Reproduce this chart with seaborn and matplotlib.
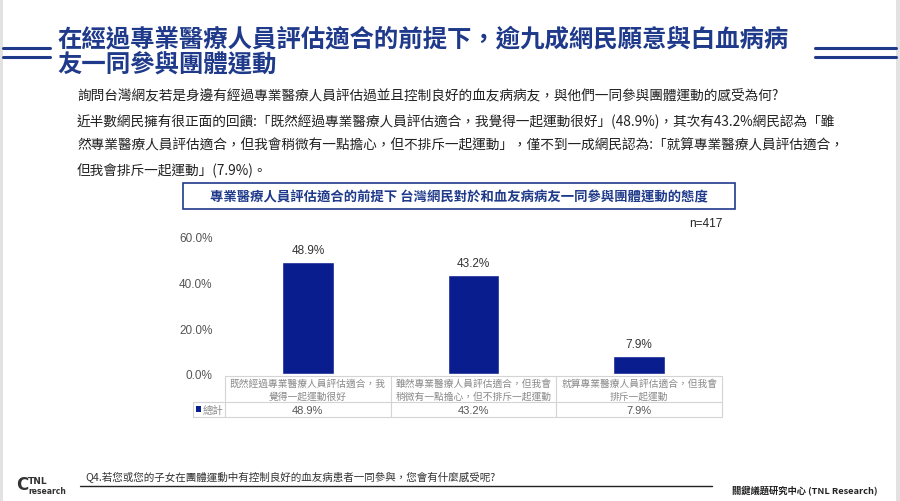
import matplotlib
matplotlib.use("Agg")
import matplotlib.pyplot as plt
import matplotlib.transforms as mtransforms
from matplotlib.patches import Rectangle
import pandas as pd
import seaborn as sns

# data
categories = ["既然經過專業醫療人員評估適合，我\n覺得一起運動很好",
              "雖然專業醫療人員評估適合，但我會\n稍微有一點擔心，但不排斥一起運動",
              "就算專業醫療人員評估適合，但我會\n排斥一起運動"]
values = [48.9, 43.2, 7.9]
yticks = [0, 20, 40, 60]
series_name = "總計"

title_lines = ["在經過專業醫療人員評估適合的前提下，逾九成網民願意與白血病病",
               "友一同參與團體運動"]
para_lines = ["詢問台灣網友若是身邊有經過專業醫療人員評估過並且控制良好的血友病病友，與他們一同參與團體運動的感受為何?",
              "近半數網民擁有很正面的回饋:「既然經過專業醫療人員評估適合，我覺得一起運動很好」(48.9%)，其次有43.2%網民認為「雖",
              "然專業醫療人員評估適合，但我會稍微有一點擔心，但不排斥一起運動」，僅不到一成網民認為:「就算專業醫療人員評估適合，",
              "但我會排斥一起運動」(7.9%)。"]
chart_title = "專業醫療人員評估適合的前提下 台灣網民對於和血友病病友一同參與團體運動的態度"
sample = "n=417"
question = "Q4.若您或您的子女在團體運動中有控制良好的血友病患者一同參與，您會有什麼感受呢?"
source = "關鍵議題研究中心 (TNL Research)"

sns.set_theme(style="white")
plt.rcParams['font.family'] = ['Noto Sans CJK TC', 'DejaVu Sans']

W, H = 900, 502
navy = "#1f3a8a"
bar_blue = "#0a1d8f"
grid_gray = "#d4d4d4"
num_font = ["Liberation Sans", "DejaVu Sans"]


def fx(px):
    return px / W


def fy(py):
    return 1 - py / H


fig = plt.figure(figsize=(9, 5.02), dpi=100)
fig.patch.set_facecolor("white")

# slide side borders
fig.add_artist(Rectangle((0, 0), fx(3), 1, transform=fig.transFigure, color="#e2e2e2", lw=0))
fig.add_artist(Rectangle((fx(896), 0), fx(4), 1, transform=fig.transFigure, color="#e2e2e2", lw=0))

# title and decorative lines
for i, t in enumerate(title_lines):
    fig.text(fx(57), fy(39 + 25 * i), t, fontsize=17.6, fontweight="bold", color=navy,
             va="center", ha="left")
for yy in (49, 58):
    fig.add_artist(plt.Line2D([fx(3), fx(50)], [fy(yy), fy(yy)], color=navy, lw=2.2,
                              transform=fig.transFigure))
    fig.add_artist(plt.Line2D([fx(815), fx(896)], [fy(yy), fy(yy)], color=navy, lw=2.2,
                              transform=fig.transFigure))

# paragraph
for i, t in enumerate(para_lines):
    fig.text(fx(77), fy(97 + 24.5 * i), t, fontsize=9.85, color="#222222", va="center", ha="left")

# chart title box
fig.add_artist(Rectangle((fx(183), fy(210)), fx(735) - fx(183), fy(184) - fy(210),
                         transform=fig.transFigure, fill=False, edgecolor=navy, lw=1.2))
fig.text(fx(459), fy(197), chart_title, fontsize=9.6, fontweight="bold", color=navy,
         ha="center", va="center")

# bar chart
ax = fig.add_axes([fx(225), fy(375), fx(722) - fx(225), (375 - 237) / H])
df = pd.DataFrame({"cat": [str(i) for i in range(len(values))], "val": values})
sns.barplot(data=df, x="cat", y="val", color=bar_blue, width=0.31, saturation=1, ax=ax)
ax.set_ylim(0, 60)
ax.set_xlim(-0.5, len(values) - 0.5)
ax.set_yticks(yticks)
ax.set_yticklabels([f"{v:.1f}%" for v in yticks], color="#555555", fontsize=8.5, family=num_font)
ax.tick_params(axis="y", length=0, pad=9)
ax.set_xticks([])
ax.set_xlabel("")
ax.set_ylabel("")
for s in ax.spines.values():
    s.set_visible(False)
ax.bar_label(ax.containers[0], labels=[f"{v:.1f}%" for v in values], padding=4,
             fontsize=8.5, color="#333333", family=num_font)
ax.set_facecolor("none")

fig.text(fx(723), fy(224), sample, fontsize=8.5, color="#222222", ha="right", va="center",
         family=num_font)

# data table under the chart
trans = mtransforms.blended_transform_factory(ax.transData, fig.transFigure)
x0 = -0.5
fig.add_artist(plt.Line2D([fx(225), fx(722)], [fy(377), fy(377)], color=grid_gray, lw=0.8,
                          transform=fig.transFigure))
for yy in (403, 418):
    fig.add_artist(plt.Line2D([fx(193), fx(722)], [fy(yy), fy(yy)], color=grid_gray, lw=0.8,
                              transform=fig.transFigure))
fig.add_artist(plt.Line2D([fx(193), fx(193)], [fy(403), fy(418)], color=grid_gray, lw=0.8,
                          transform=fig.transFigure))
for i in range(len(values) + 1):
    xb = x0 + i
    ax.add_artist(plt.Line2D([xb, xb], [fy(377), fy(418)], color=grid_gray, lw=0.8,
                             transform=trans, clip_on=False))
for i, (c, v) in enumerate(zip(categories, values)):
    ax.text(i, fy(390), c, transform=trans, ha="center", va="center", fontsize=7,
            color="#8a8a8a", linespacing=1.35, clip_on=False)
    ax.text(i, fy(410.5), f"{v:.1f}%", transform=trans, ha="center", va="center", fontsize=8,
            color="#555555", clip_on=False, family=num_font)
fig.add_artist(Rectangle((fx(196), fy(412.5)), fx(5), fy(407.5) - fy(412.5),
                         transform=fig.transFigure, color=bar_blue, lw=0))
fig.text(fx(203), fy(410.5), series_name, fontsize=7.5, color="#8a8a8a", ha="left", va="center")

# footer
fig.text(fx(85), fy(478), question, fontsize=7.6, color="#333333", ha="left", va="center")
fig.add_artist(plt.Line2D([fx(80), fx(712)], [fy(487), fy(487)], color="#222222", lw=1,
                          transform=fig.transFigure))
fig.text(fx(878), fy(490), source, fontsize=6.7, fontweight="bold", color="#222222",
         ha="right", va="center")
fig.text(fx(28), fy(482), "TNL", fontsize=6.5, fontweight="bold", color="#333333",
         ha="left", va="center", family="DejaVu Sans")
fig.text(fx(28), fy(492), "research", fontsize=5.5, fontweight="bold", color="#333333",
         ha="left", va="center", family="DejaVu Sans")
fig.text(fx(16), fy(485), "C", fontsize=12, fontweight="bold", color="#333333",
         ha="left", va="center", family="DejaVu Sans")

fig.savefig("out.png", dpi=100, facecolor="white")
